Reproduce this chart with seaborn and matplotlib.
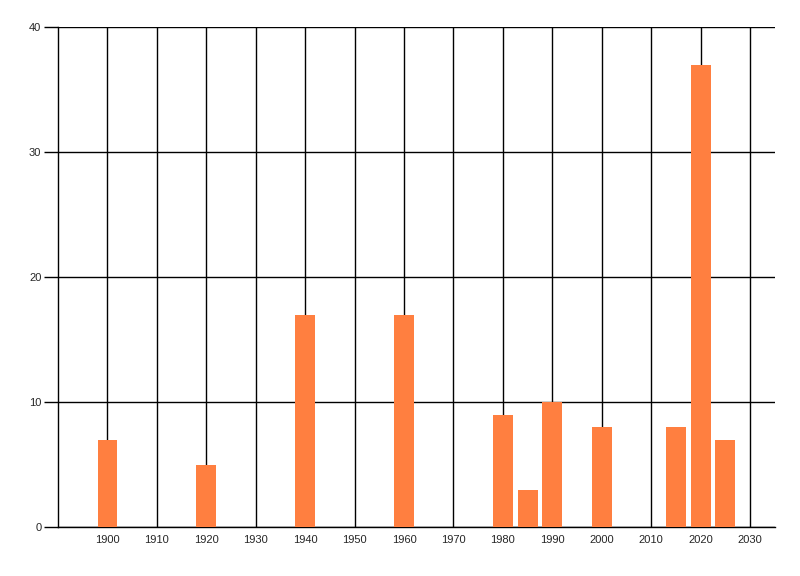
import matplotlib
matplotlib.use("Agg")
import matplotlib.pyplot as plt
import seaborn as sns
import pandas as pd

# dados
anos = [1900, 1920, 1940, 1960, 1980, 1985, 1990, 2000, 2015, 2020, 2025]
contagens = [7, 5, 17, 17, 9, 3, 10, 8, 8, 37, 7]
ticks_x = [1900, 1910, 1920, 1930, 1940, 1950, 1960, 1970, 1980, 1990, 2000, 2010, 2020, 2030]
ticks_y = [0, 10, 20, 30, 40]

df = pd.DataFrame({"ano": anos, "contagem": contagens})

sns.set_style("white")
plt.rcParams['font.family'] = ['Liberation Sans', 'DejaVu Sans']

fig = plt.figure(figsize=(8, 5.76), dpi=100)
ax = fig.add_axes([0.0725, 0.085, 0.896, 0.868])

sns.barplot(data=df, x="ano", y="contagem", native_scale=True, width=0.8,
            color="#ff7f40", saturation=1, linewidth=0, edgecolor="none",
            ax=ax, zorder=3)

ax.set_xlim(1890, 2035)
ax.set_ylim(0, 40)
ax.set_xticks(ticks_x)
ax.set_xticklabels([str(t) for t in ticks_x])
ax.set_yticks(ticks_y)
ax.grid(True, color="black", linewidth=1)
ax.set_axisbelow(True)
ax.set_xlabel("")
ax.set_ylabel("")

for lado in ["top", "right"]:
    ax.spines[lado].set_visible(False)
for lado in ["left", "bottom"]:
    ax.spines[lado].set_color("black")
    ax.spines[lado].set_linewidth(1)

ax.tick_params(axis="y", length=10, width=1, color="black", labelsize=8, pad=2, left=True)
ax.tick_params(axis="x", length=0, labelsize=8, pad=6)

fig.savefig("out.png", dpi=100)
